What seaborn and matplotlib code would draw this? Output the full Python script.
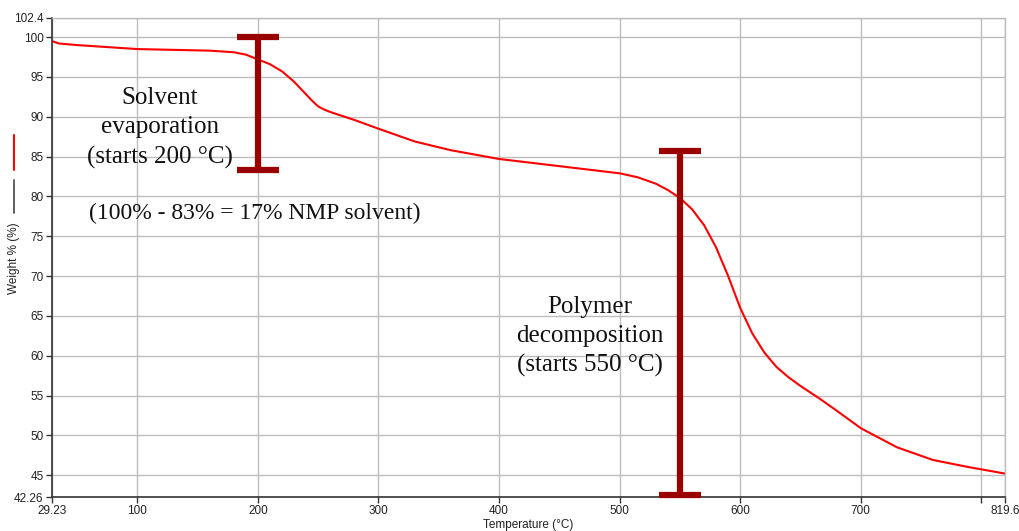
import numpy as np
import pandas as pd
import matplotlib
matplotlib.use("Agg")
import matplotlib.pyplot as plt
from matplotlib.lines import Line2D
import seaborn as sns

# TGA curve
temp = [29.23, 35, 50, 70, 100, 130, 160, 180, 190, 200, 210, 220, 230, 240, 245, 250, 255, 260, 270,
        280, 300, 330, 360, 400, 450, 500, 515, 530, 540, 550, 560, 570, 580, 590, 600, 610, 620, 630,
        640, 650, 665, 680, 700, 730, 760, 790, 819.6]
weight = [99.5, 99.2, 99.0, 98.8, 98.5, 98.4, 98.3, 98.1, 97.8, 97.2, 96.6, 95.7, 94.4, 92.8, 92.0, 91.3, 90.9, 90.6, 90.1,
          89.6, 88.5, 86.9, 85.8, 84.7, 83.8, 82.9, 82.4, 81.6, 80.8, 79.8, 78.4, 76.4, 73.6, 70.0, 66.0, 62.8, 60.4, 58.6,
          57.3, 56.2, 54.7, 53.1, 50.9, 48.5, 46.9, 46.0, 45.2]

# annotation bars (x, low, high)
bar_x = [200, 550]
bar_lo = [83.3, 42.5]
bar_hi = [100.0, 85.7]
cap_half = 17.5

xticks = [29.23, 100, 200, 300, 400, 500, 600, 700, 800, 819.6]
xlabels = ["29.23", "100", "200", "300", "400", "500", "600", "700", "", "819.6"]
yticks = [42.26, 45, 50, 55, 60, 65, 70, 75, 80, 85, 90, 95, 100, 102.4]
ylabels = ["42.26", "45", "50", "55", "60", "65", "70", "75", "80", "85", "90", "95", "100", "102.4"]

df = pd.DataFrame({"temp": temp, "weight": weight})

sns.set_style("white")
plt.rcParams["font.family"] = ["Liberation Sans", "DejaVu Sans"]

fig = plt.figure(figsize=(10.19, 5.31), dpi=100)
ax = fig.add_axes([52 / 1019, 1 - 497 / 531, (1005 - 52) / 1019, (497 - 18) / 531])

sns.lineplot(data=df, x="temp", y="weight", color="#ff0000", linewidth=1.5, ax=ax)

ax.vlines(bar_x, bar_lo, bar_hi, color="#9b0000", linewidth=4.5, clip_on=False, zorder=5)
ax.hlines(bar_lo + bar_hi, [x - cap_half for x in bar_x * 2], [x + cap_half for x in bar_x * 2],
          color="#9b0000", linewidth=4.5, clip_on=False, zorder=5)

ax.set_xlim(29.23, 819.6)
ax.set_ylim(42.26, 102.4)
ax.set_xticks(xticks)
ax.set_xticklabels(xlabels)
ax.set_yticks(yticks)
ax.set_yticklabels(ylabels)
ax.grid(True, color="#bdbdbd", linewidth=1)
ax.tick_params(axis="both", direction="out", length=4, width=1, color="#333333",
               labelsize=8.5, labelcolor="#222222", pad=2, bottom=True, left=True)
for s in ["left", "bottom"]:
    ax.spines[s].set_color("#333333")
    ax.spines[s].set_linewidth(1.2)
for s in ["top", "right"]:
    ax.spines[s].set_color("#bdbdbd")
    ax.spines[s].set_linewidth(1)
ax.set_xlabel("")
ax.set_ylabel("")

serif = ["Liberation Serif", "DejaVu Serif"]
ax.text(118.9, 88.6, "Solvent\nevaporation\n(starts 200 °C)", ha="center", va="center",
        fontsize=18, family=serif, color="#111111", linespacing=1.42)
ax.text(197, 77.9, "(100% - 83% = 17% NMP solvent)", ha="center", va="center",
        fontsize=17, family=serif, color="#111111")
ax.text(475, 62.4, "Polymer\ndecomposition\n(starts 550 °C)", ha="center", va="center",
        fontsize=18, family=serif, color="#111111", linespacing=1.42)

# axis titles and legend marks in the left margin
fig.text(528 / 1019, 1 - 525 / 531, "Temperature (°C)", ha="center", va="center",
         fontsize=8.5, color="#222222")
fig.text(14 / 1019, 1 - 258 / 531, "Weight % (%)", ha="center", va="center",
         rotation=90, fontsize=8.5, color="#222222")
fig.add_artist(Line2D([14 / 1019, 14 / 1019], [1 - 135 / 531, 1 - 170 / 531],
                      color="#ff0000", linewidth=1.5))
fig.add_artist(Line2D([14 / 1019, 14 / 1019], [1 - 180 / 531, 1 - 213 / 531],
                      color="#444444", linewidth=1.2))

fig.savefig("out.png", dpi=100)
